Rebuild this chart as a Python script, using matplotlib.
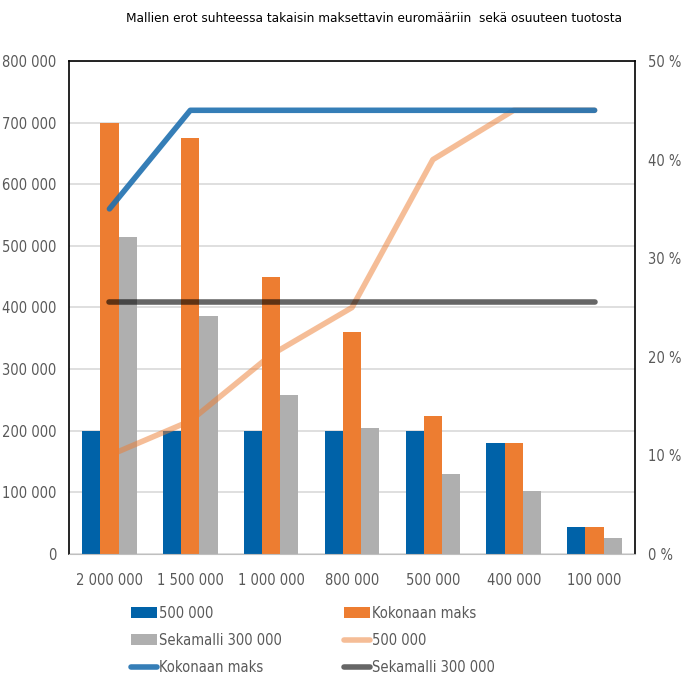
import numpy as np
import matplotlib.pyplot as plt
from matplotlib.ticker import FuncFormatter, MultipleLocator

# narrow look like the original; falls back to normal width if no condensed face
plt.rcParams['font.family'] = ['DejaVu Sans']
plt.rcParams['font.stretch'] = 'condensed'

categories = ['2 000 000', '1 500 000', '1 000 000', '800 000', '500 000', '400 000', '100 000']
bar_500 = [200000, 200000, 200000, 200000, 200000, 180000, 43000]
bar_kokonaan = [700000, 675000, 450000, 360000, 224000, 180000, 43000]
bar_seka = [515000, 386000, 258000, 205000, 130000, 102000, 26000]
pct_500 = [10, 13.5, 20.2, 25, 40, 45, 45]
pct_kokonaan = [35, 45, 45, 45, 45, 45, 45]
pct_seka = [25.6, 25.6, 25.6, 25.6, 25.6, 25.6, 25.6]

labels = ['500 000', 'Kokonaan maks', 'Sekamalli 300 000']

fig = plt.figure(figsize=(6.84, 6.80), dpi=100)
ax = fig.add_axes([0.1009, 0.1853, 0.8275, 0.725])
x = np.arange(len(categories))
w = 0.225
gray_txt = '#595959'
fs = 10.5

b1 = ax.bar(x - w, bar_500, w, color='#0062A8', label=labels[0], zorder=2)
b2 = ax.bar(x, bar_kokonaan, w, color='#ED7D31', label=labels[1], zorder=2)
b3 = ax.bar(x + w, bar_seka, w, color='#AFAFAF', label=labels[2], zorder=2)

ax.set_ylim(0, 800000)
ax.set_xlim(-0.5, len(categories) - 0.5)
ax.yaxis.set_major_locator(MultipleLocator(100000))
ax.yaxis.set_major_formatter(FuncFormatter(lambda v, p: f'{int(v):,}'.replace(',', ' ')))
ax.grid(axis='y', color='#D9D9D9', linewidth=1.2, zorder=0)
ax.set_xticks(x)
ax.set_xticklabels(categories)
ax.tick_params(axis='both', length=0, labelsize=fs, colors=gray_txt)
ax.tick_params(axis='x', pad=14)
ax.tick_params(axis='y', pad=9)
for s in ['left', 'top', 'right']:
    ax.spines[s].set_color('black')
    ax.spines[s].set_linewidth(1.2)
ax.spines['bottom'].set_color('#BFBFBF')

ax2 = ax.twinx()
l1, = ax2.plot(x, pct_500, color='#ED7D31', alpha=0.5, lw=4, solid_capstyle='round', label=labels[0])
l2, = ax2.plot(x, pct_kokonaan, color='#1F70B0', alpha=0.9, lw=4, solid_capstyle='round', label=labels[1])
l3, = ax2.plot(x, pct_seka, color='black', alpha=0.6, lw=4, solid_capstyle='round', label=labels[2])
ax2.set_ylim(0, 50)
ax2.yaxis.set_major_locator(MultipleLocator(10))
ax2.yaxis.set_major_formatter(FuncFormatter(lambda v, p: f'{int(v)} %'))
ax2.tick_params(axis='y', length=0, labelsize=fs, colors=gray_txt, pad=9)
for s in ax2.spines.values():
    s.set_visible(False)

fig.text(0.547, 0.973, 'Mallien erot suhteessa takaisin maksettavin euromääriin  sekä osuuteen tuotosta',
         ha='center', va='center', fontsize=9.7, color='black')

fig.legend([b1, b3, l2, b2, l1, l3],
           [labels[0], labels[2], labels[1], labels[1], labels[0], labels[2]],
           ncol=2, loc='upper left', bbox_to_anchor=(0.183, 0.118), frameon=False,
           fontsize=fs, labelcolor=gray_txt, handlelength=1.75, handleheight=0.8,
           handletextpad=0.15, columnspacing=4.3, labelspacing=0.85, borderaxespad=0)

fig.savefig('out.png', dpi=100)
